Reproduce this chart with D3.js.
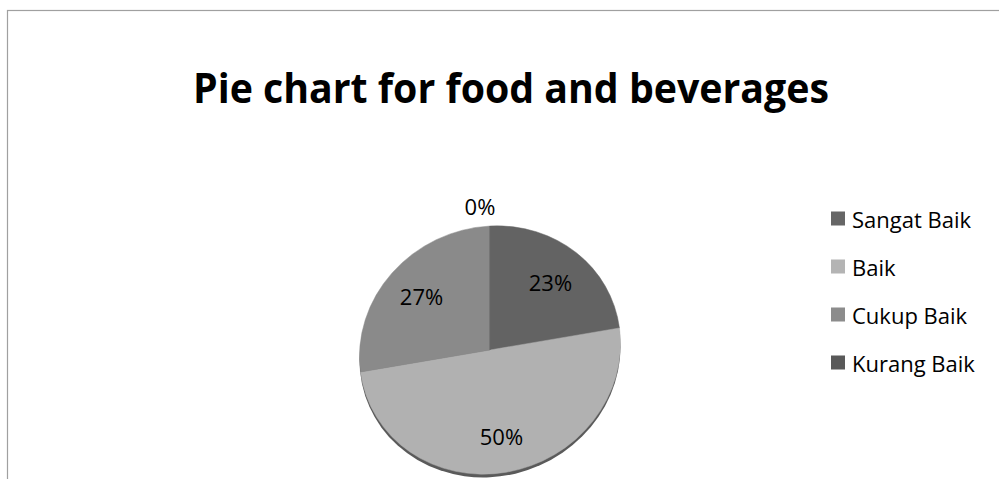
<!DOCTYPE html>
<html>
<head>
<meta charset="utf-8">
<script src="https://cdn.jsdelivr.net/npm/d3@7"></script>
<style>
  html, body { margin: 0; padding: 0; background: #fff; }
  svg { display: block; font-family: "Open Sans", "DejaVu Sans", sans-serif; }
</style>
</head>
<body>
<svg id="chart" width="999" height="479"></svg>
<script>
const title = "Pie chart for food and beverages";
const categories = ["Sangat Baik", "Baik", "Cukup Baik", "Kurang Baik"];
const values = [23, 50, 27, 0];
const sliceColors = ["#636363", "#b1b1b1", "#8a8a8a", "#595959"];
const legendColors = ["#666666", "#b4b4b4", "#8c8c8c", "#595959"];

const svg = d3.select("#chart");

// chart frame
svg.append("rect")
  .attr("x", 7.5).attr("y", 10.5)
  .attr("width", 1200).attr("height", 1000)
  .attr("fill", "#fff").attr("stroke", "#a0a0a0").attr("stroke-width", 1.2);

// title
svg.append("text")
  .attr("x", 193).attr("y", 103)
  .attr("font-size", 41).attr("font-weight", "bold")
  .attr("fill", "#000")
  .attr("textLength", 636).attr("lengthAdjust", "spacingAndGlyphs")
  .text(title);

// pie geometry (tilted 3-D look: vertical squash + slight shear)
const cx = 490, cy = 350, r = 130.5, sy = 0.95, k = -0.05;
const project = (x, y) => [cx + x, cy + y * sy + x * k];

const pie = d3.pie().sort(null).value(d => d)(values);
const arc = d3.arc().innerRadius(0).outerRadius(r);
const labelArc = d3.arc().innerRadius(r * 0.7).outerRadius(r * 0.7);

const g = svg.append("g")
  .attr("transform", `matrix(1,${k},0,${sy},${cx},${cy})`);

// 3D rim / side
g.append("path")
  .attr("d", d3.arc().innerRadius(0).outerRadius(r)({startAngle: 0, endAngle: 2 * Math.PI}))
  .attr("transform", "translate(0,3.5)")
  .attr("fill", "#5a5a5a");

g.selectAll("path.slice")
  .data(pie)
  .join("path")
  .attr("class", "slice")
  .attr("d", arc)
  .attr("fill", (d, i) => sliceColors[i])
  .attr("stroke", (d, i) => sliceColors[i])
  .attr("stroke-width", 0.5);

// labels
const fmt = d3.format(".0%");
const total = d3.sum(values);
pie.forEach((d, i) => {
  let p;
  if (d.value === 0) {
    const [x, y] = d3.arc().innerRadius(r * 1.16).outerRadius(r * 1.16).centroid(d);
    p = project(x, y);
    p[0] -= 10;
  } else {
    const [x, y] = labelArc.centroid(d);
    p = project(x, y);
  }
  svg.append("text")
    .attr("x", p[0]).attr("y", p[1])
    .attr("text-anchor", "middle")
    .attr("dominant-baseline", "central")
    .attr("font-size", 22)
    .attr("fill", "#000")
    .text(fmt(d.value / total));
});

// legend
const legendY = d3.scalePoint().domain(categories).range([218, 362]);
const lg = svg.append("g");
categories.forEach((c, i) => {
  const y = legendY(c);
  lg.append("rect")
    .attr("x", 831).attr("y", y - 6.5)
    .attr("width", 14).attr("height", 14)
    .attr("fill", legendColors[i]);
  lg.append("text")
    .attr("x", 852).attr("y", y + 1)
    .attr("dominant-baseline", "central")
    .attr("font-size", 22)
    .attr("fill", "#000")
    .text(c);
});
</script>
</body>
</html>
